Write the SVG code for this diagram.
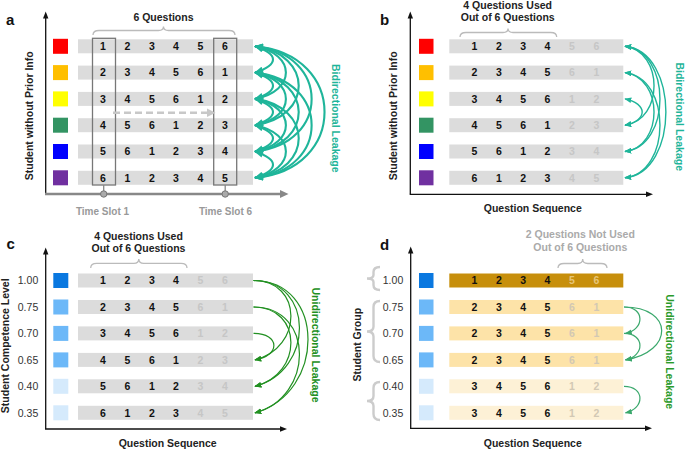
<svg xmlns="http://www.w3.org/2000/svg" width="685" height="449" viewBox="0 0 685 449">
<defs>
<style>
text{font-family:"Liberation Sans",Arial,sans-serif;}
.n{font-size:10.5px;font-weight:bold;fill:#111;text-anchor:middle;}
.f{font-size:10.5px;font-weight:bold;fill:#c6c6c6;text-anchor:middle;}
.fd{font-size:10.5px;font-weight:bold;fill:#d2c8b4;text-anchor:middle;}
.fg{font-size:10.5px;font-weight:bold;fill:#e6c57a;text-anchor:middle;}
.lbl{font-size:10.5px;font-weight:bold;fill:#222;text-anchor:middle;}
.glbl{font-size:10.5px;font-weight:bold;fill:#aaa;text-anchor:middle;}
.ts{font-size:10px;font-weight:bold;fill:#999;text-anchor:middle;}
.lev{font-size:10.5px;fill:#333;text-anchor:middle;}
.pl{font-size:15px;font-weight:bold;fill:#111;}
.bar{fill:#dcdcdc;}
.brace{fill:none;stroke:#bbb;stroke-width:1.3;}
.lbrace{fill:none;stroke:#ccc;stroke-width:2.4;}
.ax{stroke:#111;stroke-width:1.3;fill:none;}
.axh{fill:#111;}
.ca{fill:none;stroke:#1fb59a;stroke-width:2.1;marker-start:url(#ma);marker-end:url(#ma);}
.cb{fill:none;stroke:#1fb59a;stroke-width:1.4;marker-start:url(#mb);marker-end:url(#mb);}
.cc{fill:none;stroke:#229022;stroke-width:1.2;marker-end:url(#mc);}
.cd{fill:none;stroke:#3aa86c;stroke-width:1.2;marker-end:url(#md);}
</style>
<marker id="ma" viewBox="0 0 10 8" refX="9" refY="4" markerWidth="9" markerHeight="7.5" markerUnits="userSpaceOnUse" orient="auto-start-reverse"><path d="M0,0 L10,4 L0,8 z" fill="#1fb59a"/></marker>
<marker id="mb" viewBox="0 0 10 8" refX="9" refY="4" markerWidth="7" markerHeight="6" markerUnits="userSpaceOnUse" orient="auto-start-reverse"><path d="M0,0 L10,4 L0,8 z" fill="#1fb59a"/></marker>
<marker id="mc" viewBox="0 0 10 8" refX="9" refY="4" markerWidth="7" markerHeight="6" markerUnits="userSpaceOnUse" orient="auto"><path d="M0,0 L10,4 L0,8 z" fill="#229022"/></marker>
<marker id="md" viewBox="0 0 10 8" refX="9" refY="4" markerWidth="7" markerHeight="6" markerUnits="userSpaceOnUse" orient="auto"><path d="M0,0 L10,4 L0,8 z" fill="#3aa86c"/></marker>
</defs>
<rect width="685" height="449" fill="#fff"/>

<!-- ============ Panel a ============ -->
<g id="panel-a">
<text class="pl" x="6" y="25">a</text>
<text class="lbl" x="163.5" y="21">6 Questions</text>
<path class="brace" d="M93 35 Q93 30.5 99 30.5 L158.5 30.5 Q163.5 30.5 163.5 26.5 Q163.5 30.5 168.5 30.5 L229 30.5 Q235 30.5 235 35"/>
<text class="lbl" transform="translate(33.3,115.8) rotate(-90)">Student without Prior Info</text>
<text class="lbl" transform="translate(331.5,118.3) rotate(90)" style="fill:#1fb59a">Bidirectional Leakage</text>
<line class="ax" x1="45.7" y1="194" x2="45.7" y2="17"/>
<polygon class="axh" points="45.7,11.5 43,18.5 48.4,18.5"/>
<line x1="45" y1="194" x2="282" y2="194" stroke="#888" stroke-width="2.4"/>
<polygon points="288.5,194 280,190 280,198" fill="#888"/>
</g>
<g id="a-row1"><rect x="53" y="38.8" width="15" height="15" fill="#ff0000"/><rect class="bar" x="78" y="39.3" width="175" height="14"/>
<text class="n" x="103" y="50.1">1</text><text class="n" x="127.5" y="50.1">2</text><text class="n" x="152" y="50.1">3</text><text class="n" x="176" y="50.1">4</text><text class="n" x="200.5" y="50.1">5</text><text class="n" x="225" y="50.1">6</text></g>
<g id="a-row2"><rect x="53" y="65.1" width="15" height="15" fill="#ffbf00"/><rect class="bar" x="78" y="65.6" width="175" height="14"/>
<text class="n" x="103" y="76.4">2</text><text class="n" x="127.5" y="76.4">3</text><text class="n" x="152" y="76.4">4</text><text class="n" x="176" y="76.4">5</text><text class="n" x="200.5" y="76.4">6</text><text class="n" x="225" y="76.4">1</text></g>
<g id="a-row3"><rect x="53" y="91.4" width="15" height="15" fill="#ffff00"/><rect class="bar" x="78" y="91.9" width="175" height="14"/>
<text class="n" x="103" y="102.7">3</text><text class="n" x="127.5" y="102.7">4</text><text class="n" x="152" y="102.7">5</text><text class="n" x="176" y="102.7">6</text><text class="n" x="200.5" y="102.7">1</text><text class="n" x="225" y="102.7">2</text></g>
<g id="a-row4"><rect x="53" y="117.7" width="15" height="15" fill="#339463"/><rect class="bar" x="78" y="118.2" width="175" height="14"/>
<text class="n" x="103" y="129">4</text><text class="n" x="127.5" y="129">5</text><text class="n" x="152" y="129">6</text><text class="n" x="176" y="129">1</text><text class="n" x="200.5" y="129">2</text><text class="n" x="225" y="129">3</text></g>
<g id="a-row5"><rect x="53" y="144" width="15" height="15" fill="#0000ff"/><rect class="bar" x="78" y="144.5" width="175" height="14"/>
<text class="n" x="103" y="155.3">5</text><text class="n" x="127.5" y="155.3">6</text><text class="n" x="152" y="155.3">1</text><text class="n" x="176" y="155.3">2</text><text class="n" x="200.5" y="155.3">3</text><text class="n" x="225" y="155.3">4</text></g>
<g id="a-row6"><rect x="53" y="170.3" width="15" height="15" fill="#7030a0"/><rect class="bar" x="78" y="170.8" width="175" height="14"/>
<text class="n" x="103" y="181.6">6</text><text class="n" x="127.5" y="181.6">1</text><text class="n" x="152" y="181.6">2</text><text class="n" x="176" y="181.6">3</text><text class="n" x="200.5" y="181.6">4</text><text class="n" x="225" y="181.6">5</text></g>
<g id="a-slot1">
<rect x="92.5" y="38.3" width="23" height="146.7" fill="none" stroke="#777" stroke-width="1.3"/>
<line x1="103.7" y1="185" x2="103.7" y2="191" stroke="#888" stroke-width="1.3"/>
<circle cx="103.7" cy="194" r="3.2" fill="#aaa" stroke="#777" stroke-width="1"/>
<text class="ts" x="102.5" y="215">Time Slot 1</text>
</g>
<g id="a-slot6">
<rect x="213.7" y="38.3" width="23" height="146.7" fill="none" stroke="#777" stroke-width="1.3"/>
<line x1="225.2" y1="185" x2="225.2" y2="191" stroke="#888" stroke-width="1.3"/>
<circle cx="225.2" cy="194" r="3.2" fill="#aaa" stroke="#777" stroke-width="1"/>
<text class="ts" x="225.5" y="215">Time Slot 6</text>
</g>
<g id="a-connectors">
<line x1="113" y1="112.7" x2="207" y2="112.7" stroke="#c8c8c8" stroke-width="2.6" stroke-dasharray="7 4"/>
<polygon points="215.5,112.7 207,108.5 207,116.9" fill="#c8c8c8"/>
<path class="ca" d="M255 46.3 C279 54.3 279 64.6 255 72.6"/>
<path class="ca" d="M255 46.3 C296.2 54.3 296.2 90.9 255 98.9"/>
<path class="ca" d="M255 46.3 C313.3 54.3 313.3 117.2 255 125.2"/>
<path class="ca" d="M255 46.3 C330.5 54.3 330.5 143.5 255 151.5"/>
<path class="ca" d="M255 46.3 C347.7 54.3 347.7 169.8 255 177.8"/>
<path class="ca" d="M255 72.6 C279 80.6 279 90.9 255 98.9"/>
<path class="ca" d="M255 72.6 C296.2 80.6 296.2 117.2 255 125.2"/>
<path class="ca" d="M255 72.6 C313.3 80.6 313.3 143.5 255 151.5"/>
<path class="ca" d="M255 72.6 C330.5 80.6 330.5 169.8 255 177.8"/>
<path class="ca" d="M255 98.9 C279 106.9 279 117.2 255 125.2"/>
<path class="ca" d="M255 98.9 C296.2 106.9 296.2 143.5 255 151.5"/>
<path class="ca" d="M255 98.9 C313.3 106.9 313.3 169.8 255 177.8"/>
<path class="ca" d="M255 125.2 C279 133.2 279 143.5 255 151.5"/>
<path class="ca" d="M255 125.2 C296.2 133.2 296.2 169.8 255 177.8"/>
<path class="ca" d="M255 151.5 C279 159.5 279 169.8 255 177.8"/>
</g>

<!-- ============ Panel b ============ -->
<g id="panel-b">
<text class="pl" x="380" y="25">b</text>
<text class="lbl" x="507.7" y="8.5">4 Questions Used</text>
<text class="lbl" x="507.7" y="20.5">Out of 6 Questions</text>
<path class="brace" d="M460 37 Q460 32.5 466 32.5 L503 32.5 Q508 32.5 508 28.5 Q508 32.5 513 32.5 L550.7 32.5 Q556.7 32.5 556.7 37"/>
<text class="lbl" transform="translate(397.3,115.8) rotate(-90)">Student without Prior Info</text>
<text class="lbl" transform="translate(675.5,116.7) rotate(90)" style="fill:#1fb59a">Bidirectional Leakage</text>
<text class="lbl" x="532.8" y="212.3">Question Sequence</text>
<line class="ax" x1="410.3" y1="194.3" x2="410.3" y2="17"/>
<polygon class="axh" points="410.3,11.5 407.6,18.5 413,18.5"/>
<line class="ax" x1="409.7" y1="194.3" x2="647" y2="194.3"/>
<polygon class="axh" points="653,194.3 646,191.6 646,197"/>
</g>
<g id="b-row1"><rect x="419" y="38.8" width="14.5" height="15" fill="#ff0000"/><rect class="bar" x="449.3" y="39.3" width="174" height="14"/>
<text class="n" x="474.3" y="50.1">1</text><text class="n" x="498.8" y="50.1">2</text><text class="n" x="523.2" y="50.1">3</text><text class="n" x="547.5" y="50.1">4</text><text class="f" x="571.8" y="50.1">5</text><text class="f" x="596.3" y="50.1">6</text></g>
<g id="b-row2"><rect x="419" y="65.1" width="14.5" height="15" fill="#ffbf00"/><rect class="bar" x="449.3" y="65.6" width="174" height="14"/>
<text class="n" x="474.3" y="76.4">2</text><text class="n" x="498.8" y="76.4">3</text><text class="n" x="523.2" y="76.4">4</text><text class="n" x="547.5" y="76.4">5</text><text class="f" x="571.8" y="76.4">6</text><text class="f" x="596.3" y="76.4">1</text></g>
<g id="b-row3"><rect x="419" y="91.4" width="14.5" height="15" fill="#ffff00"/><rect class="bar" x="449.3" y="91.9" width="174" height="14"/>
<text class="n" x="474.3" y="102.7">3</text><text class="n" x="498.8" y="102.7">4</text><text class="n" x="523.2" y="102.7">5</text><text class="n" x="547.5" y="102.7">6</text><text class="f" x="571.8" y="102.7">1</text><text class="f" x="596.3" y="102.7">2</text></g>
<g id="b-row4"><rect x="419" y="117.7" width="14.5" height="15" fill="#339463"/><rect class="bar" x="449.3" y="118.2" width="174" height="14"/>
<text class="n" x="474.3" y="129">4</text><text class="n" x="498.8" y="129">5</text><text class="n" x="523.2" y="129">6</text><text class="n" x="547.5" y="129">1</text><text class="f" x="571.8" y="129">2</text><text class="f" x="596.3" y="129">3</text></g>
<g id="b-row5"><rect x="419" y="144" width="14.5" height="15" fill="#0000ff"/><rect class="bar" x="449.3" y="144.5" width="174" height="14"/>
<text class="n" x="474.3" y="155.3">5</text><text class="n" x="498.8" y="155.3">6</text><text class="n" x="523.2" y="155.3">1</text><text class="n" x="547.5" y="155.3">2</text><text class="f" x="571.8" y="155.3">3</text><text class="f" x="596.3" y="155.3">4</text></g>
<g id="b-row6"><rect x="419" y="170.3" width="14.5" height="15" fill="#7030a0"/><rect class="bar" x="449.3" y="170.8" width="174" height="14"/>
<text class="n" x="474.3" y="181.6">6</text><text class="n" x="498.8" y="181.6">1</text><text class="n" x="523.2" y="181.6">2</text><text class="n" x="547.5" y="181.6">3</text><text class="f" x="571.8" y="181.6">4</text><text class="f" x="596.3" y="181.6">5</text></g>
<g id="b-connectors">
<path class="cb" d="M625 46.3 C663.7 51.3 663.7 120.2 625 125.2"/>
<path class="cb" d="M625 46.3 C671.6 51.3 671.6 146.5 625 151.5"/>
<path class="cb" d="M625 46.3 C679.5 51.3 679.5 172.8 625 177.8"/>
<path class="cb" d="M625 72.6 C663.7 77.6 663.7 146.5 625 151.5"/>
<path class="cb" d="M625 72.6 C671.6 77.6 671.6 172.8 625 177.8"/>
<path class="cb" d="M625 98.9 C647.9 103.9 647.9 120.2 625 125.2"/>
</g>

<!-- ============ Panel c ============ -->
<g id="panel-c">
<text class="pl" x="6.5" y="249">c</text>
<text class="lbl" x="138.5" y="240">4 Questions Used</text>
<text class="lbl" x="138.5" y="252.3">Out of 6 Questions</text>
<path class="brace" d="M90.7 268 Q90.7 263.3 96.7 263.3 L133.8 263.3 Q138.8 263.3 138.8 259 Q138.8 263.3 143.8 263.3 L181 263.3 Q187 263.3 187 268"/>
<text class="lbl" transform="translate(8.6,345.8) rotate(-90)">Student Competence Level</text>
<text class="lbl" transform="translate(312,345) rotate(90)" style="fill:#229022">Unidirectional Leakage</text>
<text class="lbl" x="167.7" y="446.7">Question Sequence</text>
<line class="ax" x1="45.7" y1="429" x2="45.7" y2="253"/>
<polygon class="axh" points="45.7,247.5 43,254.5 48.4,254.5"/>
<line class="ax" x1="45" y1="429" x2="281" y2="429"/>
<polygon class="axh" points="287,429 280,426.3 280,431.7" />
</g>
<g id="c-row1"><text class="lev" x="28" y="284.3">1.00</text><rect x="53.3" y="273" width="15" height="15" fill="#0a78e0"/><rect class="bar" x="78" y="273.5" width="175" height="14"/>
<text class="n" x="103" y="284.3">1</text><text class="n" x="127.5" y="284.3">2</text><text class="n" x="152" y="284.3">3</text><text class="n" x="176" y="284.3">4</text><text class="f" x="200.5" y="284.3">5</text><text class="f" x="225" y="284.3">6</text></g>
<g id="c-row2"><text class="lev" x="28" y="310.8">0.75</text><rect x="53.3" y="299.5" width="15" height="15" fill="#6cb8f8"/><rect class="bar" x="78" y="300" width="175" height="14"/>
<text class="n" x="103" y="310.8">2</text><text class="n" x="127.5" y="310.8">3</text><text class="n" x="152" y="310.8">4</text><text class="n" x="176" y="310.8">5</text><text class="f" x="200.5" y="310.8">6</text><text class="f" x="225" y="310.8">1</text></g>
<g id="c-row3"><text class="lev" x="28" y="337.2">0.70</text><rect x="53.3" y="325.9" width="15" height="15" fill="#6cb8f8"/><rect class="bar" x="78" y="326.4" width="175" height="14"/>
<text class="n" x="103" y="337.2">3</text><text class="n" x="127.5" y="337.2">4</text><text class="n" x="152" y="337.2">5</text><text class="n" x="176" y="337.2">6</text><text class="f" x="200.5" y="337.2">1</text><text class="f" x="225" y="337.2">2</text></g>
<g id="c-row4"><text class="lev" x="28" y="363.7">0.65</text><rect x="53.3" y="352.4" width="15" height="15" fill="#6cb8f8"/><rect class="bar" x="78" y="352.9" width="175" height="14"/>
<text class="n" x="103" y="363.7">4</text><text class="n" x="127.5" y="363.7">5</text><text class="n" x="152" y="363.7">6</text><text class="n" x="176" y="363.7">1</text><text class="f" x="200.5" y="363.7">2</text><text class="f" x="225" y="363.7">3</text></g>
<g id="c-row5"><text class="lev" x="28" y="390.1">0.40</text><rect x="53.3" y="378.8" width="15" height="15" fill="#d5eafc"/><rect class="bar" x="78" y="379.3" width="175" height="14"/>
<text class="n" x="103" y="390.1">5</text><text class="n" x="127.5" y="390.1">6</text><text class="n" x="152" y="390.1">1</text><text class="n" x="176" y="390.1">2</text><text class="f" x="200.5" y="390.1">3</text><text class="f" x="225" y="390.1">4</text></g>
<g id="c-row6"><text class="lev" x="28" y="416.6">0.35</text><rect x="53.3" y="405.3" width="15" height="15" fill="#d5eafc"/><rect class="bar" x="78" y="405.8" width="175" height="14"/>
<text class="n" x="103" y="416.6">6</text><text class="n" x="127.5" y="416.6">1</text><text class="n" x="152" y="416.6">2</text><text class="n" x="176" y="416.6">3</text><text class="f" x="200.5" y="416.6">4</text><text class="f" x="225" y="416.6">5</text></g>
<g id="c-connectors">
<path class="cc" d="M253.5 280.5 C303.1 280.5 303.1 348 255 359.9"/>
<path class="cc" d="M253.5 280.5 C314.5 280.5 314.5 370.4 255 386.3"/>
<path class="cc" d="M253.5 280.5 C325.9 280.5 325.9 393 255 412.8"/>
<path class="cc" d="M253.5 307 C303.1 307 303.1 374.4 255 386.3"/>
<path class="cc" d="M253.5 307 C314.5 307 314.5 396.9 255 412.8"/>
<path class="cc" d="M253.5 333.4 C280.4 333.4 280.4 355.9 255 359.9"/>
</g>

<!-- ============ Panel d ============ -->
<g id="panel-d">
<text class="pl" x="380" y="250">d</text>
<text class="glbl" x="580.3" y="238.3">2 Questions Not Used</text>
<text class="glbl" x="580.3" y="250.8">Out of 6 Questions</text>
<path class="brace" d="M558 268 Q558 263.5 564 263.5 L577.7 263.5 Q582.7 263.5 582.7 259 Q582.7 263.5 587.7 263.5 L601 263.5 Q607 263.5 607 268"/>
<path class="lbrace" d="M380 267 Q373.5 267 373.5 272 L373.5 275 Q373.5 278.5 367 278.5 Q373.5 278.5 373.5 282 L373.5 285 Q373.5 290 380 290"/>
<path class="lbrace" d="M380 301 Q373.5 301 373.5 307 L373.5 326.5 Q373.5 331.5 367 331.5 Q373.5 331.5 373.5 336.5 L373.5 356 Q373.5 362 380 362"/>
<path class="lbrace" d="M380 382 Q373.5 382 373.5 388 L373.5 396 Q373.5 401 367 401 Q373.5 401 373.5 406 L373.5 414 Q373.5 420 380 420"/>
<text class="lbl" transform="translate(361,344.7) rotate(-90)">Student Group</text>
<text class="lbl" transform="translate(665.5,351.7) rotate(90)" style="fill:#2a9a2a">Unidirectional Leakage</text>
<text class="lbl" x="532.8" y="446.7">Question Sequence</text>
<line class="ax" x1="410.7" y1="428.3" x2="410.7" y2="252"/>
<polygon class="axh" points="410.7,246.5 408,253.5 413.4,253.5"/>
<line class="ax" x1="410" y1="428.3" x2="646" y2="428.3"/>
<polygon class="axh" points="652,428.3 645,425.6 645,431" />
</g>
<g id="d-row1"><text class="lev" x="393" y="284.3">1.00</text><rect x="419" y="273" width="14.5" height="15" fill="#0a78e0"/><rect x="449.3" y="273.5" width="174" height="14" fill="#c78f0c"/>
<text class="n" x="474.3" y="284.3">1</text><text class="n" x="498.8" y="284.3">2</text><text class="n" x="523.2" y="284.3">3</text><text class="n" x="547.5" y="284.3">4</text><text class="fg" x="571.8" y="284.3">5</text><text class="fg" x="596.3" y="284.3">6</text></g>
<g id="d-row2"><text class="lev" x="393" y="310.8">0.75</text><rect x="419" y="299.5" width="14.5" height="15" fill="#6cb8f8"/><rect x="449.3" y="300" width="174" height="14" fill="#fde3a8"/>
<text class="n" x="474.3" y="310.8">2</text><text class="n" x="498.8" y="310.8">3</text><text class="n" x="523.2" y="310.8">4</text><text class="n" x="547.5" y="310.8">5</text><text class="fd" x="571.8" y="310.8">6</text><text class="fd" x="596.3" y="310.8">1</text></g>
<g id="d-row3"><text class="lev" x="393" y="337.2">0.70</text><rect x="419" y="325.9" width="14.5" height="15" fill="#6cb8f8"/><rect x="449.3" y="326.4" width="174" height="14" fill="#fde3a8"/>
<text class="n" x="474.3" y="337.2">2</text><text class="n" x="498.8" y="337.2">3</text><text class="n" x="523.2" y="337.2">4</text><text class="n" x="547.5" y="337.2">5</text><text class="fd" x="571.8" y="337.2">6</text><text class="fd" x="596.3" y="337.2">1</text></g>
<g id="d-row4"><text class="lev" x="393" y="363.7">0.65</text><rect x="419" y="352.4" width="14.5" height="15" fill="#6cb8f8"/><rect x="449.3" y="352.9" width="174" height="14" fill="#fde3a8"/>
<text class="n" x="474.3" y="363.7">2</text><text class="n" x="498.8" y="363.7">3</text><text class="n" x="523.2" y="363.7">4</text><text class="n" x="547.5" y="363.7">5</text><text class="fd" x="571.8" y="363.7">6</text><text class="fd" x="596.3" y="363.7">1</text></g>
<g id="d-row5"><text class="lev" x="393" y="390.1">0.40</text><rect x="419" y="378.8" width="14.5" height="15" fill="#d5eafc"/><rect x="449.3" y="379.3" width="174" height="14" fill="#fdf1d6"/>
<text class="n" x="474.3" y="390.1">3</text><text class="n" x="498.8" y="390.1">4</text><text class="n" x="523.2" y="390.1">5</text><text class="n" x="547.5" y="390.1">6</text><text class="fd" x="571.8" y="390.1">1</text><text class="fd" x="596.3" y="390.1">2</text></g>
<g id="d-row6"><text class="lev" x="393" y="416.6">0.35</text><rect x="419" y="405.3" width="14.5" height="15" fill="#d5eafc"/><rect x="449.3" y="405.8" width="174" height="14" fill="#fdf1d6"/>
<text class="n" x="474.3" y="416.6">3</text><text class="n" x="498.8" y="416.6">4</text><text class="n" x="523.2" y="416.6">5</text><text class="n" x="547.5" y="416.6">6</text><text class="fd" x="571.8" y="416.6">1</text><text class="fd" x="596.3" y="416.6">2</text></g>
<g id="d-connectors">
<path class="cd" d="M624 307 C645 307 645 329.4 625.5 333.4"/>
<path class="cd" d="M624 307 C674 307 674 352 625.5 359.9"/>
<path class="cd" d="M624 333.4 C645 333.4 645 355.9 625.5 359.9"/>
<path class="cd" d="M624 386.3 C645 386.3 645 408.8 625.5 412.8"/>
</g>
</svg>
